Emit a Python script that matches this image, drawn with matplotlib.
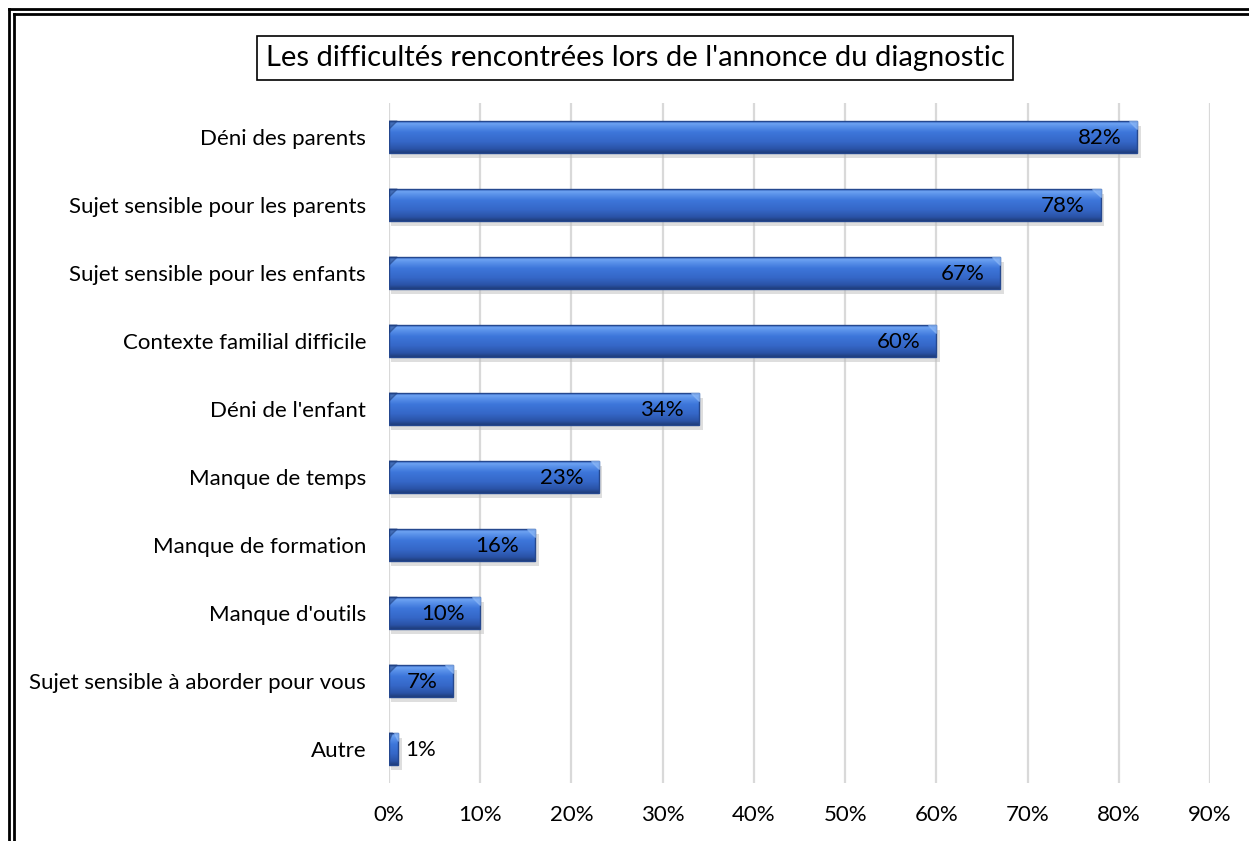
import matplotlib
matplotlib.use("Agg")
import matplotlib.pyplot as plt
import numpy as np
from matplotlib.colors import LinearSegmentedColormap
from matplotlib.patches import Rectangle
from matplotlib.lines import Line2D

categories = ["Déni des parents", "Sujet sensible pour les parents", "Sujet sensible pour les enfants",
              "Contexte familial difficile", "Déni de l'enfant", "Manque de temps",
              "Manque de formation", "Manque d'outils", "Sujet sensible à aborder pour vous", "Autre"]
values = [82, 78, 67, 60, 34, 23, 16, 10, 7, 1]
xticks = [0, 10, 20, 30, 40, 50, 60, 70, 80, 90]
title = "Les difficultés rencontrées lors de l'annonce du diagnostic"

plt.rcParams['font.family'] = ['Lato', 'DejaVu Sans']

fig = plt.figure(figsize=(12.49, 8.41), dpi=100)
ax = fig.add_axes([389/1249, 1-783/841, (1210-389)/1249, (783-103)/841])

# gradient from top (0) to bottom (1)
grad_cmap = LinearSegmentedColormap.from_list("bar", [
    (0.0, "#3e6fcf"), (0.07, "#6ea3f2"), (0.16, "#5a92ea"), (0.35, "#3d76da"),
    (0.65, "#3567c7"), (0.88, "#2a52a6"), (1.0, "#1f3d7a")])

h = 0.47
n = len(categories)
ys = np.arange(n)
for y, v in zip(ys, values):
    # shadow
    ax.add_patch(Rectangle((0.2, y - h/2 + 0.08), v + 0.2, h, facecolor="#bfbfbf",
                           edgecolor="none", alpha=0.5, zorder=2))
    grad = np.linspace(0, 1, 100).reshape(-1, 1)
    ax.imshow(grad, cmap=grad_cmap, extent=[0, v, y + h/2, y - h/2], origin="upper",
              aspect="auto", zorder=3, interpolation="bilinear")
    ax.add_patch(Rectangle((0, y - h/2), v, h, facecolor="none", edgecolor="#25488f",
                           linewidth=1.0, zorder=4))
    # bevel ends
    b = min(0.9, v * 0.4)
    ax.fill([v - b, v, v], [y - h/2, y - h/2, y - h/2 + 0.12], color="#8fbaf7", alpha=0.6, zorder=4)
    ax.fill([0, b, 0], [y - h/2 + 0.12, y - h/2, y - h/2], color="#1e3f80", alpha=0.5, zorder=4)
    label = f"{v}%"
    if v >= 5:
        ax.text(v - 1.7, y + 0.02, label, ha="right", va="center", fontsize=16, color="black", zorder=5)
    else:
        ax.text(v + 0.8, y + 0.02, label, ha="left", va="center", fontsize=16, color="black", zorder=5)

ax.set_xlim(0, 90)
ax.set_ylim(n - 0.5, -0.5)
ax.set_xticks(xticks)
ax.set_xticklabels([f"{t}%" for t in xticks], fontsize=16)
ax.set_yticks(ys)
ax.set_yticklabels(categories, fontsize=16)
ax.tick_params(axis="x", length=0, pad=16)
ax.tick_params(axis="y", length=0, pad=16.5)
ax.grid(axis="x", color="#d9d9d9", linewidth=1.6, zorder=0)
ax.set_axisbelow(True)
for s in ax.spines.values():
    s.set_visible(False)

fig.text(635/1249, 1-58/841, title, ha="center", va="center", fontsize=21,
         bbox=dict(boxstyle="square,pad=0.3", facecolor="white", edgecolor="black", linewidth=1.2))

# double border (left and top)
for px in (8.5, 13.5):
    fig.add_artist(Line2D([px/1249, px/1249], [0, 1 - px/841], transform=fig.transFigure,
                          color="black", linewidth=2.0))
    fig.add_artist(Line2D([px/1249, 1], [1 - px/841, 1 - px/841], transform=fig.transFigure,
                          color="black", linewidth=2.0))

fig.savefig("out.png", dpi=100)
